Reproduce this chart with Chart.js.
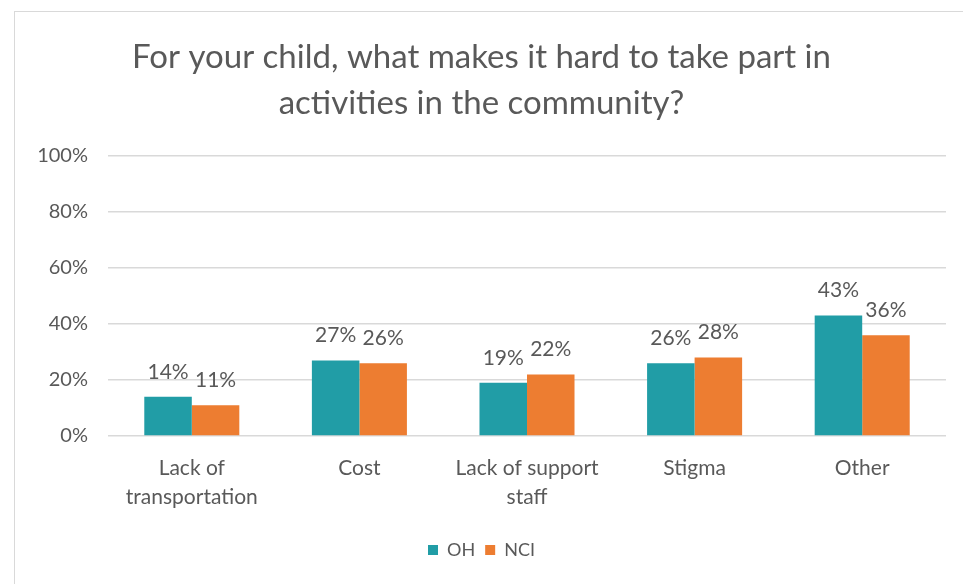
<!DOCTYPE html>
<html>
<head>
<meta charset="utf-8">
<script src="https://cdn.jsdelivr.net/npm/chart.js@4"></script>
<style>
  html, body { margin: 0; padding: 0; background: #fff; overflow: hidden; }
  #wrap { position: relative; width: 963px; height: 584px; }
  #frame { position: absolute; left: 14px; top: 11px; width: 960px; height: 600px; border: 1px solid #d9d9d9; box-sizing: border-box; }
  canvas { position: absolute; left: 0; top: 0; }
</style>
</head>
<body>
<div id="wrap">
  <div id="frame"></div>
  <canvas id="barrierChart" width="963" height="584"></canvas>
</div>
<script>
// Dữ liệu
const categories = [['Lack of', 'transportation'], 'Cost', ['Lack of support', 'staff'], 'Stigma', 'Other'];
const ohValues = [14, 27, 19, 26, 43];
const nciValues = [11, 26, 22, 28, 36];
const yTicks = [0, 20, 40, 60, 80, 100];

const FONT = 'Lato, "Open Sans", sans-serif';
const GREY = '#595959';

// Vẽ nhãn phần trăm phía trên mỗi cột
const barLabels = {
    id: 'barLabels',
    afterDatasetsDraw(chart) {
        const ctx = chart.ctx;
        ctx.save();
        ctx.font = '21px ' + FONT;
        ctx.fillStyle = GREY;
        ctx.textAlign = 'center';
        ctx.textBaseline = 'middle';
        chart.data.datasets.forEach((ds, i) => {
            chart.getDatasetMeta(i).data.forEach((bar, j) => {
                ctx.fillText(ds.data[j] + '%', bar.x, bar.y - 25);
            });
        });
        ctx.restore();
    }
};

const ctx = document.getElementById('barrierChart').getContext('2d');
const barrierChart = new Chart(ctx, {
    type: 'bar',
    data: {
        labels: categories,
        datasets: [{
            label: 'OH',
            data: ohValues,
            backgroundColor: '#219DA6'
        }, {
            label: 'NCI',
            data: nciValues,
            backgroundColor: '#ED7D31'
        }]
    },
    options: {
        responsive: false,
        animation: false,
        layout: { padding: { left: 17, right: 17, top: 0, bottom: 15 } },
        categoryPercentage: 0.567,
        barPercentage: 1,
        scales: {
            x: {
                grid: { display: false },
                border: { display: false },
                afterFit: (scale) => { scale.height = 95; },
                ticks: { color: GREY, font: { family: FONT, size: 21, lineHeight: 1.38 }, padding: 10, maxRotation: 0 }
            },
            y: {
                min: 0,
                max: 100,
                afterBuildTicks: (scale) => { scale.ticks = yTicks.map(v => ({ value: v })); },
                afterFit: (scale) => { scale.width = 91; },
                grid: { color: '#d9d9d9', lineWidth: 1.5, drawTicks: false },
                border: { display: false },
                ticks: {
                    color: GREY,
                    font: { family: FONT, size: 20 },
                    padding: 20,
                    callback: (v) => v + '%'
                }
            }
        },
        plugins: {
            title: {
                display: true,
                text: ['For your child, what makes it hard to take part in', 'activities in the community?'],
                color: GREY,
                font: { family: FONT, size: 33, weight: 'normal', lineHeight: 1.394 },
                padding: { top: 34, bottom: 30 }
            },
            legend: {
                position: 'bottom',
                labels: {
                    color: GREY,
                    font: { family: FONT, size: 18 },
                    boxWidth: 10,
                    boxHeight: 10,
                    padding: 10
                }
            },
            tooltip: { enabled: false }
        }
    },
    plugins: [barLabels]
});
</script>
</body>
</html>
